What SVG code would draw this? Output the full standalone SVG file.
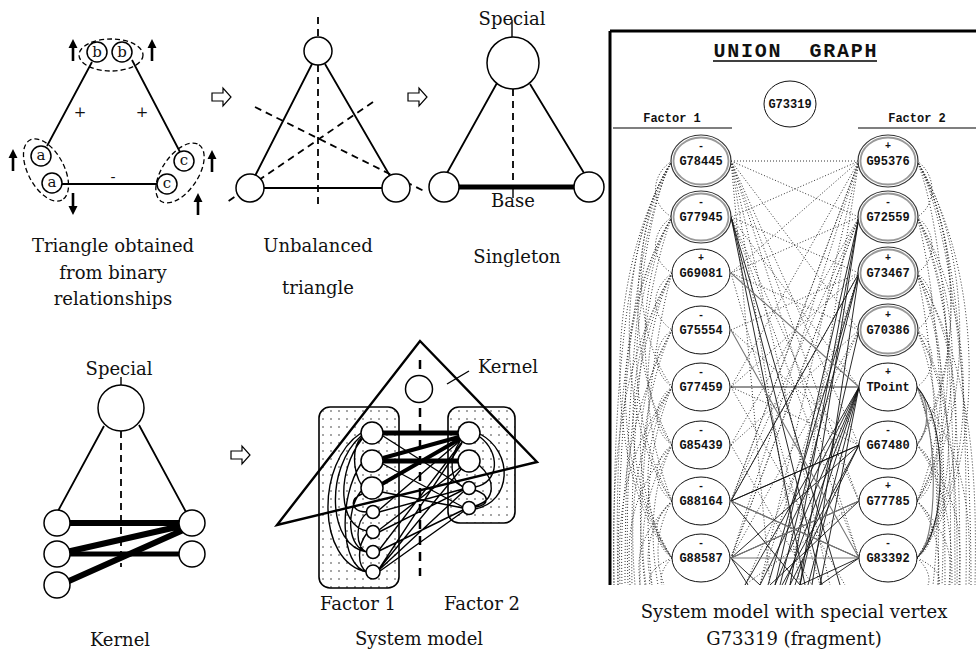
<svg xmlns="http://www.w3.org/2000/svg" width="976" height="652" viewBox="0 0 976 652">
<style>
.cap{font-family:"DejaVu Serif","Liberation Serif",serif;font-size:18px;text-anchor:middle;fill:#111}
.let{font-family:"DejaVu Serif","Liberation Serif",serif;font-size:15px;text-anchor:middle;fill:#111}
.mono{font-family:"Liberation Mono","DejaVu Sans Mono",monospace;font-weight:bold;font-size:12px;text-anchor:middle;fill:#111}
.sg{font-family:"Liberation Mono","DejaVu Sans Mono",monospace;font-weight:bold;font-size:10px;text-anchor:middle;fill:#111}
.ln{stroke:#000;stroke-width:1.8;fill:none}
.thin{stroke:#000;stroke-width:1.4;fill:none}
.thick{stroke:#000;stroke-width:5;fill:none}
.dash{stroke:#000;stroke-width:1.8;stroke-dasharray:7 5;fill:none}
.dsh{stroke:#000;stroke-width:1.3;stroke-dasharray:5 3;fill:none}
.nd{fill:#fff;stroke:#000;stroke-width:1.5}
.dot{stroke:#333;stroke-width:1;stroke-dasharray:1 2;fill:none}
.sol{stroke:#111;stroke-width:0.9;fill:none}
.gry{stroke:#777;stroke-width:1.1;fill:none}
.ue{fill:#fff;stroke:#111;stroke-width:1}
.uo{fill:#fff;stroke:#333;stroke-width:1.2}
.ui{fill:none;stroke:#999;stroke-width:1.8}
</style>
<defs>
<path id="up" d="M0,-11 L-4.5,-2 L-1.3,-2 L-1.3,11 L1.3,11 L1.3,-2 L4.5,-2 Z" fill="#000"/>
<path id="harrow" d="M0,-4 H11 V-9 L19,0 L11,9 V4 H0 Z" fill="#fff" stroke="#000" stroke-width="1.2"/>
<pattern id="dots" width="8" height="8" patternUnits="userSpaceOnUse"><circle cx="3" cy="3" r="0.8" fill="#333"/></pattern>
<clipPath id="uclip"><rect x="611" y="32" width="365" height="553"/></clipPath>
</defs>
<rect width="976" height="652" fill="#fff"/>

<!-- Figure 1: triangle from binary relationships -->
<g id="fig1">
 <g id="fig1-connectors">
  <path class="ln" d="M92,62 L47,146 M132,60 L180,152 M62,184 L157,184"/>
  <ellipse class="dsh" cx="111" cy="55" rx="32" ry="16"/>
  <ellipse class="dsh" cx="46" cy="170" rx="34" ry="18" transform="rotate(62 46 170)"/>
  <ellipse class="dsh" cx="180" cy="173" rx="34" ry="18" transform="rotate(-56 180 173)"/>
 </g>
 <g id="n-b1"><circle class="nd" cx="97" cy="52" r="10"/><text class="let" x="97" y="57">b</text></g>
 <g id="n-b2"><circle class="nd" cx="122" cy="52" r="10"/><text class="let" x="122" y="57">b</text></g>
 <g id="n-a1"><circle class="nd" cx="41" cy="156" r="10"/><text class="let" x="41" y="160">a</text></g>
 <g id="n-a2"><circle class="nd" cx="52" cy="183" r="10"/><text class="let" x="52" y="187">a</text></g>
 <g id="n-c1"><circle class="nd" cx="184" cy="161" r="10"/><text class="let" x="184" y="165">c</text></g>
 <g id="n-c2"><circle class="nd" cx="167" cy="184" r="10"/><text class="let" x="167" y="188">c</text></g>
 <use href="#up" x="73" y="50"/>
 <use href="#up" x="152" y="50"/>
 <use href="#up" x="13" y="160"/>
 <use href="#up" transform="rotate(180 73 204)" x="73" y="204"/>
 <use href="#up" x="198" y="204"/>
 <use href="#up" x="212" y="161"/>
 <text class="let" x="80" y="117">+</text>
 <text class="let" x="142" y="117">+</text>
 <text class="let" x="113" y="182">-</text>
 <text class="cap" x="113" y="252">Triangle obtained</text>
 <text class="cap" x="113" y="279">from binary</text>
 <text class="cap" x="113" y="305">relationships</text>
</g>

<use href="#harrow" x="212" y="97"/>
<use href="#harrow" x="408" y="97"/>
<use href="#harrow" x="231" y="455"/>

<!-- Figure 2: unbalanced triangle -->
<g id="fig2">
 <g id="fig2-connectors">
  <path class="dash" d="M318,17 V207 M255,107 L424,191 M373,102 L227,202"/>
  <path class="ln" d="M312,64 L255,176 M325,64 L390,176 M264,188 H382"/>
 </g>
 <g id="u-top"><circle class="nd" cx="318" cy="51" r="14"/></g>
 <g id="u-left"><circle class="nd" cx="250" cy="188" r="14"/></g>
 <g id="u-right"><circle class="nd" cx="396" cy="188" r="14"/></g>
 <text class="cap" x="318" y="252">Unbalanced</text>
 <text class="cap" x="318" y="294">triangle</text>
</g>

<!-- Figure 3: singleton -->
<g id="fig3">
 <text class="cap" x="512" y="25">Special</text>
 <g id="fig3-connectors">
  <path class="thin" d="M512,20 V37"/>
  <path class="ln" d="M497,83 L447,173 M530,84 L584,173"/>
  <path class="thick" d="M459,187 H574"/>
  <path class="dash" d="M513,89 V185"/>
  <path class="thin" d="M513,185 V198"/>
 </g>
 <g id="s-special"><circle class="nd" cx="513" cy="63" r="26"/></g>
 <g id="s-left"><circle class="nd" cx="444" cy="187" r="15"/></g>
 <g id="s-right"><circle class="nd" cx="589" cy="187" r="15"/></g>
 <text class="cap" x="513" y="207">Base</text>
 <text class="cap" x="517" y="263">Singleton</text>
</g>

<!-- Figure 4: kernel -->
<g id="fig4">
 <text class="cap" x="119" y="375">Special</text>
 <g id="fig4-connectors">
  <path class="thin" d="M121,377 V385"/>
  <path class="ln" d="M104,426 L58,511 M139,425 L186,512"/>
  <path class="dash" d="M121,431 V567"/>
  <path stroke="#000" stroke-width="6" fill="none" d="M57,523 H192 M62,553 L190,524 M60,585 L190,527"/>
  <path stroke="#000" stroke-width="5" fill="none" d="M62,554 H192"/>
 </g>
 <g id="k-special"><circle class="nd" cx="121" cy="408" r="23"/></g>
 <g id="k-l1"><circle class="nd" cx="57" cy="523" r="13"/></g>
 <g id="k-l2"><circle class="nd" cx="57" cy="554" r="13"/></g>
 <g id="k-l3"><circle class="nd" cx="57" cy="585" r="13"/></g>
 <g id="k-r1"><circle class="nd" cx="192" cy="523" r="13"/></g>
 <g id="k-r2"><circle class="nd" cx="192" cy="554" r="13"/></g>
 <text class="cap" x="120" y="646">Kernel</text>
</g>

<!-- Figure 5: system model -->
<g id="fig5">
 <g id="box-f1"><rect x="319" y="407" width="80" height="181" rx="11" fill="url(#dots)" stroke="#000" stroke-width="1.6"/></g>
 <g id="box-f2"><rect x="448" y="407" width="67" height="116" rx="11" fill="url(#dots)" stroke="#000" stroke-width="1.6"/></g>
 <g id="fig5-connectors">
  <path stroke="#000" stroke-width="2.5" stroke-dasharray="9 7" fill="none" d="M420,360 V576"/>
  <path stroke="#000" stroke-width="2.4" fill="none" d="M420,341 L537,462 L277,525 Z"/>
  <path class="thin" d="M447,384 L469,371"/>
  <path class="thin" d="M361,433 C316,462 316,562 367,572 M361,436 C325,468 327,546 367,552 M362,439 C336,472 338,526 367,531 M361,464 C338,498 340,566 367,572 M361,491 C345,512 348,548 367,552 M362,494 C348,500 352,512 367,512 M367,513 C355,522 355,548 367,552 M367,533 C357,546 357,566 367,572 M362,486 C352,470 352,446 362,437"/>
  <path class="thin" d="M480,434 C514,452 512,502 475,509 M480,437 C500,452 500,482 475,487 M479,465 C496,480 496,500 475,506 M460,441 C448,460 450,480 463,487 M475,490 C490,495 490,505 475,507"/>
  <path class="thin" d="M383,436 L463,487 M383,464 L463,507 M382,492 L463,508 M379,510 L461,440 M379,512 L463,489 M379,530 L461,467 M379,532 L463,490 M379,550 L462,442 M379,551 L463,510 M379,569 L462,443 M379,569 L462,468 M379,570 L463,492 M380,571 L464,511"/>
  <path stroke="#000" stroke-width="5" fill="none" d="M383,433 H458 M383,461 H458"/>
  <path stroke="#000" stroke-width="4" fill="none" d="M383,458 L459,437 M382,484 L460,439"/>
 </g>
 <g id="sm-special"><circle class="nd" cx="419" cy="389" r="13.5"/></g>
 <g id="f1-n1"><circle class="nd" cx="372" cy="433" r="11"/></g>
 <g id="f1-n2"><circle class="nd" cx="372" cy="461" r="11"/></g>
 <g id="f1-n3"><circle class="nd" cx="372" cy="488" r="11"/></g>
 <g id="f1-n4"><circle class="nd" cx="373" cy="512" r="6.5"/></g>
 <g id="f1-n5"><circle class="nd" cx="373" cy="532" r="6.5"/></g>
 <g id="f1-n6"><circle class="nd" cx="373" cy="552" r="6.5"/></g>
 <g id="f1-n7"><circle class="nd" cx="373" cy="572" r="7"/></g>
 <g id="f2-n1"><circle class="nd" cx="469" cy="433" r="11"/></g>
 <g id="f2-n2"><circle class="nd" cx="469" cy="461" r="11"/></g>
 <g id="f2-n3"><circle class="nd" cx="469" cy="488" r="6.5"/></g>
 <g id="f2-n4"><circle class="nd" cx="469" cy="508" r="6.5"/></g>
 <text class="cap" x="508" y="373">Kernel</text>
 <text class="cap" x="358" y="610">Factor 1</text>
 <text class="cap" x="482" y="610">Factor 2</text>
 <text class="cap" x="419" y="645">System model</text>
</g>

<!-- Figure 6: union graph -->
<g id="fig6">
 <g id="ug-connectors" clip-path="url(#uclip)">
  <path class="dot" d="M672,161 C625,230 612,400 614,585 M672,161 C640,220 625,400 625,585 M672,217 C620,300 615,450 618,585 M672,217 C640,300 630,450 632,585 M672,273 C630,350 625,480 628,585 M672,273 C650,350 640,480 640,585 M672,330 C640,400 635,500 645,585 M672,330 C625,420 620,500 622,585 M672,387 C645,450 645,520 652,585 M672,387 C630,450 630,520 635,585 M672,445 C650,490 650,540 658,585 M672,445 C640,500 640,540 646,585 M672,501 C655,530 655,560 664,585 M672,501 C645,530 645,560 652,585 M672,558 C660,570 660,580 662,585 M672,161 C650,175 650,205 672,217 M672,217 C650,232 650,260 672,273 M672,273 C650,290 650,315 672,330 M672,330 C652,345 652,372 672,387 M672,387 C652,402 652,430 672,445 M672,445 C652,460 652,486 672,501 M672,501 C652,518 652,542 672,558 M672,161 C632,220 630,330 672,387 M672,217 C636,280 636,400 672,445"/>
  <path class="dot" d="M672,161 C600,280 605,480 672,558 M672,217 C610,320 610,470 672,558 M672,273 C620,360 620,480 672,558 M672,161 C615,250 615,420 672,501 M672,217 C625,300 625,420 672,501 M672,330 C630,400 630,490 672,558 M672,161 C628,240 625,360 672,445 M672,273 C640,340 640,420 672,501 M672,387 C640,440 640,520 672,558 M672,161 C635,230 618,420 618,585 M672,273 C615,370 612,480 614,585 M672,387 C620,460 618,520 620,585 M672,445 C625,500 628,540 630,585 M672,501 C635,540 638,560 640,585 M672,558 C650,568 648,578 650,585"/>
  <path class="dot" d="M917,161 C960,230 968,400 966,585 M917,161 C945,230 955,400 955,585 M917,217 C955,300 960,450 960,585 M917,217 C940,300 945,450 945,585 M917,273 C950,350 952,480 950,585 M917,273 C935,350 940,480 938,585 M917,330 C945,400 945,500 942,585 M917,330 C955,400 958,500 957,585 M917,387 C940,450 940,520 933,585 M917,445 C950,490 952,540 952,585 M917,501 C940,530 940,560 938,585 M917,558 C930,570 930,580 928,585 M917,161 C937,175 937,205 917,217 M917,217 C937,232 937,260 917,273 M917,273 C937,290 937,315 917,330 M917,330 C937,345 937,372 917,387 M917,445 C937,460 937,486 917,501 M917,501 C937,518 937,542 917,558 M917,161 C962,240 962,380 917,445 M917,217 C958,300 958,430 917,501"/>
  <path class="dot" d="M917,161 C989,280 984,480 917,558 M917,217 C979,320 979,470 917,558 M917,273 C969,360 969,480 917,558 M917,161 C974,250 974,420 917,501 M917,217 C964,300 964,420 917,501 M917,330 C959,400 959,490 917,558 M917,161 C961,240 964,360 917,445 M917,273 C949,340 949,420 917,501 M917,387 C949,440 949,520 917,558 M917,161 C954,230 971,420 971,585 M917,273 C974,370 977,480 975,585 M917,387 C969,460 971,520 969,585 M917,445 C964,500 961,540 959,585 M917,501 C954,540 951,560 949,585 M917,558 C939,568 941,578 939,585"/>
  <path class="dot" d="M731,161 L859,161 M731,161 L859,217 M731,161 L859,330 M731,161 L859,445 M731,161 L830,585 M731,161 L800,585 M731,161 L770,585 M731,161 L859,558 M731,161 L859,501 M859,161 L731,217 M859,161 L731,273 M859,161 L731,387 M859,161 L760,585 M859,161 L790,585 M859,161 L731,558 M859,161 L731,501 M731,217 L859,273 M731,217 L859,387 M731,217 L859,558 M731,217 L859,501 M859,217 L731,558 M859,217 L731,501 M731,273 L859,217 M731,273 L859,330 M731,273 L820,585 M731,330 L859,273 M731,330 L859,445 M731,387 L859,273 M731,445 L859,217 M731,445 L859,330 M731,501 L859,161 M731,501 L859,273 M731,558 L859,217 M859,273 L760,585 M859,330 L731,558 M859,330 L745,585 M859,445 L731,387 M859,501 L745,585 M731,387 L845,585 M731,445 L812,585"/>
  <path class="sol" d="M731,217 L805,585 M731,217 L822,585 M731,217 L840,585 M859,217 L790,585 M859,217 L775,585 M859,217 L800,585 M859,273 L731,501 M859,273 L780,585 M859,273 L768,585 M859,387 L760,585 M859,387 L775,585 M859,387 L785,585 M859,387 L795,585 M859,387 L808,585 M859,387 L820,585 M859,387 L745,585 M859,445 L731,501 M859,445 L731,558 M859,445 L790,585 M859,501 L731,558 M859,501 L770,585 M731,501 L859,558 M731,501 L800,585 M731,558 L760,585 M731,558 L748,585 M859,558 L800,585 M859,558 L820,585 M859,330 L800,585 M859,273 L812,585 M859,445 L782,585 M731,501 L859,445"/>
  <path class="sol" stroke-width="1.3" d="M731,387 L859,387"/>
  <path class="gry" d="M731,273 L859,387 M731,330 L859,558 M731,558 L859,501 M731,501 L859,558 M917,387 C938,430 938,530 921,553 M917,387 C930,400 930,430 917,445"/>
  <path class="gry" stroke-width="2" d="M731,558 L859,558"/>
  <path class="sol" d="M917,387 C948,420 948,530 917,558"/>
 </g>
 <path stroke="#000" stroke-width="3" fill="none" d="M610,31 V585 M610,31 H976"/>
 <text class="mono" x="795" y="57" xml:space="preserve" textLength="163" lengthAdjust="spacing" style="font-size:20px">UNION  GRAPH</text>
 <path stroke="#000" stroke-width="1.5" d="M713,61 H877"/>
 <g id="ug-G73319"><ellipse class="ue" cx="790" cy="104" rx="26" ry="23"/><text class="mono" x="790" y="108">G73319</text></g>
 <text class="mono" x="672" y="122">Factor 1</text>
 <text class="mono" x="917" y="122">Factor 2</text>
 <path stroke="#000" stroke-width="1.2" d="M613,128 H732 M858,128 H976"/>

 <g id="ug-G78445"><ellipse class="uo" cx="701" cy="161" rx="30" ry="26"/><ellipse class="ui" cx="701" cy="161" rx="27.5" ry="23.5"/><text class="sg" x="701" y="149">-</text><text class="mono" x="701" y="165">G78445</text></g>
 <g id="ug-G77945"><ellipse class="uo" cx="701" cy="217" rx="30" ry="26"/><ellipse class="ui" cx="701" cy="217" rx="27.5" ry="23.5"/><text class="sg" x="701" y="205">-</text><text class="mono" x="701" y="221">G77945</text></g>
 <g id="ug-G69081"><ellipse class="ue" cx="701" cy="273" rx="29" ry="24"/><text class="sg" x="701" y="261">+</text><text class="mono" x="701" y="277">G69081</text></g>
 <g id="ug-G75554"><ellipse class="ue" cx="701" cy="330" rx="29" ry="24"/><text class="sg" x="701" y="318">-</text><text class="mono" x="701" y="334">G75554</text></g>
 <g id="ug-G77459"><ellipse class="ue" cx="701" cy="387" rx="29" ry="24"/><text class="sg" x="701" y="375">-</text><text class="mono" x="701" y="391">G77459</text></g>
 <g id="ug-G85439"><ellipse class="ue" cx="701" cy="445" rx="29" ry="24"/><text class="sg" x="701" y="433">-</text><text class="mono" x="701" y="449">G85439</text></g>
 <g id="ug-G88164"><ellipse class="ue" cx="701" cy="501" rx="29" ry="24"/><text class="sg" x="701" y="489">-</text><text class="mono" x="701" y="505">G88164</text></g>
 <g id="ug-G88587"><ellipse class="ue" cx="701" cy="558" rx="29" ry="24"/><text class="sg" x="701" y="546">-</text><text class="mono" x="701" y="562">G88587</text></g>

 <g id="ug-G95376"><ellipse class="uo" cx="888" cy="161" rx="30" ry="26"/><ellipse class="ui" cx="888" cy="161" rx="27.5" ry="23.5"/><text class="sg" x="888" y="149">+</text><text class="mono" x="888" y="165">G95376</text></g>
 <g id="ug-G72559"><ellipse class="uo" cx="888" cy="217" rx="30" ry="26"/><ellipse class="ui" cx="888" cy="217" rx="27.5" ry="23.5"/><text class="sg" x="888" y="205">-</text><text class="mono" x="888" y="221">G72559</text></g>
 <g id="ug-G73467"><ellipse class="uo" cx="888" cy="273" rx="30" ry="26"/><ellipse class="ui" cx="888" cy="273" rx="27.5" ry="23.5"/><text class="sg" x="888" y="261">+</text><text class="mono" x="888" y="277">G73467</text></g>
 <g id="ug-G70386"><ellipse class="uo" cx="888" cy="330" rx="30" ry="26"/><ellipse class="ui" cx="888" cy="330" rx="27.5" ry="23.5"/><text class="sg" x="888" y="318">+</text><text class="mono" x="888" y="334">G70386</text></g>
 <g id="ug-TPoint"><ellipse class="ue" cx="888" cy="387" rx="29" ry="24"/><text class="sg" x="888" y="375">+</text><text class="mono" x="888" y="391">TPoint</text></g>
 <g id="ug-G67480"><ellipse class="ue" cx="888" cy="445" rx="29" ry="24"/><text class="sg" x="888" y="433">-</text><text class="mono" x="888" y="449">G67480</text></g>
 <g id="ug-G77785"><ellipse class="ue" cx="888" cy="501" rx="29" ry="24"/><text class="sg" x="888" y="489">+</text><text class="mono" x="888" y="505">G77785</text></g>
 <g id="ug-G83392"><ellipse class="ue" cx="888" cy="558" rx="29" ry="24"/><text class="sg" x="888" y="546">-</text><text class="mono" x="888" y="562">G83392</text></g>

 <text class="cap" x="794" y="618">System model with special vertex</text>
 <text class="cap" x="794" y="645">G73319 (fragment)</text>
</g>
</svg>
